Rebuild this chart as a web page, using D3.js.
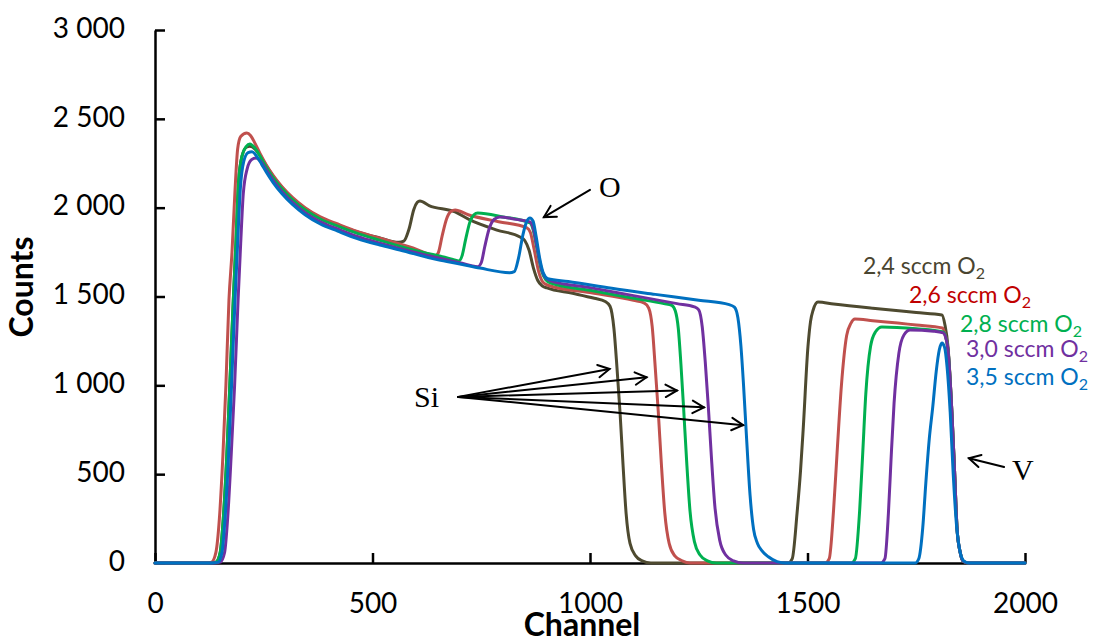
<!DOCTYPE html>
<html>
<head>
<meta charset="utf-8">
<script src="https://cdn.jsdelivr.net/npm/d3@7"></script>
<style>
  html, body { margin: 0; padding: 0; background: #fff; }
  svg { display: block; }
  .tick text { font-family: Lato, "Open Sans", sans-serif; font-size: 28px; fill: #000; }
</style>
</head>
<body>
<svg id="chart" width="1093" height="642"></svg>
<script>
// ---------- DATA ----------
const xTicks = [0, 500, 1000, 1500, 2000];
const yTicks = [0, 500, 1000, 1500, 2000, 2500, 3000];
const seriesNames = ["2,4 sccm O", "2,6 sccm O", "2,8 sccm O", "3,0 sccm O", "3,5 sccm O"];

// [channel, counts]
const s24 = [[0,0],[125,0],[140,5],[150,60],[157,250],[165,600],[172,1000],[180,1480],[186,1800],[192,2140],[200,2290],[210,2340],[218,2345],[230,2330],[242,2292],[256,2235],[272,2175],[292,2113],[316,2053],[345,1995],[380,1943],[420,1903],[465,1864],[517,1830],[560,1805],[572,1812],[584,1880],[595,1990],[603,2030],[609,2038],[630,2012],[690,1976],[724,1931],[786,1874],[839,1835],[850,1815],[860,1760],[870,1660],[880,1590],[890,1560],[901,1548],[960,1518],[1010,1490],[1035,1472],[1046,1445],[1055,1320],[1062,1100],[1069,850],[1076,550],[1083,280],[1092,110],[1105,40],[1120,12],[1140,0],[1455,0],[1465,25],[1476,281],[1484,520],[1490,749],[1501,1216],[1507,1360],[1513,1424],[1524,1469],[1560,1458],[1650,1434],[1750,1410],[1809,1396],[1816,1340],[1823,1216],[1832,844],[1838,520],[1844,186],[1851,60],[1858,10],[1870,0],[2000,0]];

const s26 = [[0,0],[115,0],[130,5],[140,60],[148,250],[156,600],[163,1000],[170,1480],[177,1750],[184,2100],[190,2330],[197,2400],[211,2420],[220,2405],[230,2362],[242,2302],[256,2240],[272,2180],[292,2118],[316,2058],[345,2000],[380,1948],[420,1908],[465,1866],[517,1828],[593,1773],[630,1738],[643,1728],[651,1745],[660,1840],[670,1935],[680,1978],[690,1987],[720,1960],[790,1921],[855,1886],[863,1860],[872,1760],[882,1640],[892,1580],[905,1562],[1000,1522],[1100,1478],[1125,1463],[1135,1435],[1143,1330],[1150,1100],[1157,850],[1164,560],[1172,280],[1182,110],[1195,40],[1212,12],[1230,0],[1540,0],[1550,25],[1560,300],[1568,620],[1578,1000],[1590,1280],[1600,1350],[1609,1373],[1650,1364],[1750,1340],[1810,1323],[1816,1290],[1823,1200],[1832,844],[1838,520],[1844,186],[1851,60],[1858,10],[1870,0],[2000,0]];

const s28 = [[0,0],[125,0],[140,5],[150,60],[157,250],[165,600],[172,1000],[180,1480],[186,1800],[192,2140],[200,2290],[210,2345],[218,2359],[230,2335],[242,2288],[256,2228],[272,2168],[292,2106],[316,2046],[345,1988],[380,1936],[420,1896],[465,1855],[517,1816],[600,1758],[680,1712],[698,1700],[706,1730],[714,1820],[724,1920],[733,1960],[742,1970],[800,1948],[862,1914],[870,1870],[878,1770],[888,1650],[898,1595],[910,1575],[1000,1535],[1100,1490],[1170,1460],[1188,1450],[1196,1420],[1203,1320],[1209,1120],[1215,880],[1222,580],[1230,290],[1240,120],[1253,45],[1270,12],[1290,0],[1600,0],[1610,25],[1620,300],[1627,620],[1634,950],[1645,1220],[1656,1300],[1671,1329],[1750,1318],[1812,1300],[1817,1280],[1823,1200],[1832,844],[1838,520],[1844,186],[1851,60],[1858,10],[1870,0],[2000,0]];

const s30 = [[0,0],[135,0],[150,5],[160,60],[167,250],[175,600],[183,1000],[191,1480],[197,1800],[203,2080],[212,2220],[222,2270],[232,2280],[245,2255],[256,2212],[272,2152],[292,2090],[316,2030],[345,1972],[380,1920],[420,1880],[465,1838],[517,1800],[600,1746],[700,1690],[742,1668],[750,1690],[758,1780],[768,1880],[780,1935],[793,1948],[830,1934],[862,1920],[870,1880],[878,1780],[888,1660],[898,1605],[910,1588],[1000,1550],[1100,1505],[1200,1460],[1240,1442],[1250,1425],[1258,1330],[1265,1130],[1272,880],[1279,600],[1287,320],[1298,130],[1312,45],[1330,12],[1352,0],[1668,0],[1678,25],[1686,280],[1692,580],[1699,900],[1710,1180],[1722,1285],[1736,1312],[1790,1305],[1812,1295],[1817,1275],[1823,1200],[1832,844],[1838,520],[1844,186],[1851,60],[1858,10],[1870,0],[2000,0]];

const s35 = [[0,0],[130,0],[145,5],[154,60],[161,250],[169,600],[176,1000],[184,1480],[190,1800],[196,2100],[204,2260],[214,2310],[223,2315],[235,2285],[245,2245],[256,2200],[272,2140],[292,2078],[316,2018],[345,1960],[380,1908],[420,1868],[465,1826],[517,1790],[563,1762],[651,1706],[701,1683],[747,1660],[815,1634],[826,1640],[836,1720],[846,1850],[855,1925],[862,1942],[869,1925],[876,1840],[884,1720],[893,1630],[903,1600],[950,1585],[1050,1546],[1150,1512],[1250,1479],[1320,1454],[1332,1440],[1340,1380],[1347,1220],[1353,1000],[1360,700],[1368,380],[1376,190],[1385,110],[1395,70],[1410,35],[1430,8],[1450,0],[1748,0],[1756,25],[1765,200],[1772,450],[1780,700],[1788,880],[1796,1080],[1803,1200],[1809,1238],[1815,1215],[1821,1100],[1828,850],[1835,500],[1843,200],[1851,60],[1860,10],[1872,0],[2000,0]];

const allSeries = [s24, s26, s28, s30, s35];
const lineColors = ["#4e4a30", "#c0504d", "#00b050", "#7030a0", "#0070c0"];
const labelColors = ["#4a4530", "#c00000", "#00b050", "#7030a0", "#0070c0"];

// annotations: arrows [fromChannel, fromCounts, toChannel, toCounts]
const siArrows = [[697, 935, 1045, 1092], [697, 935, 1130, 1045], [697, 935, 1200, 971], [697, 935, 1262, 876], [697, 935, 1352, 776]];
const oArrow = [1000, 2100, 894, 1947];
const vArrow = [1952, 540, 1871, 590];

// ---------- CHART ----------
const svg = d3.select("#chart");
const x = d3.scaleLinear().domain([0, 2000]).range([155, 1025]);
const y = d3.scaleLinear().domain([0, 3000]).range([563, 30]);

const loc = d3.formatLocale({decimal: ",", thousands: " ", grouping: [3], currency: ["", ""]});
const yFmt = loc.format(",");

// y axis
const gy = svg.append("g").attr("transform", "translate(155,0)")
  .call(d3.axisLeft(y).tickValues(yTicks).tickFormat(yFmt).tickSizeInner(-10).tickSizeOuter(0));
gy.select(".domain").attr("stroke", "#000").attr("stroke-width", 2.5);
gy.selectAll(".tick line").attr("stroke", "#000").attr("stroke-width", 2.5);
gy.selectAll(".tick text").attr("x", -30).attr("dy", "0.26em");

// x axis
const gx = svg.append("g").attr("transform", "translate(0,563)")
  .call(d3.axisBottom(x).tickValues(xTicks).tickFormat(d3.format("d")).tickSizeInner(-10).tickSizeOuter(0));
gx.select(".domain").attr("stroke", "#000").attr("stroke-width", 2.5);
gx.selectAll(".tick line").attr("stroke", "#000").attr("stroke-width", 2.5);
gx.selectAll(".tick text").attr("y", 50).attr("dy", "0");

// axis titles
svg.append("text").attr("x", 582).attr("y", 636).attr("text-anchor", "middle")
  .style("font-family", "Lato, sans-serif").style("font-weight", "bold").style("font-size", "32px")
  .text("Channel");
svg.append("text").attr("transform", "translate(33,287) rotate(-90)").attr("text-anchor", "middle")
  .style("font-family", "Lato, sans-serif").style("font-weight", "bold").style("font-size", "32px")
  .text("Counts");

// lines
const line = d3.line().x(d => x(d[0])).y(d => y(d[1])).curve(d3.curveMonotoneX);
allSeries.forEach((s, i) => {
  svg.append("path").datum(s).attr("d", line)
    .attr("fill", "none").attr("stroke", lineColors[i]).attr("stroke-width", 3)
    .attr("stroke-linejoin", "round").attr("stroke-linecap", "round");
});

// legend labels
const legendPos = [[863, 274], [909, 303], [960, 332], [966, 357], [966, 385]];
seriesNames.forEach((n, i) => {
  const t = svg.append("text").attr("x", legendPos[i][0]).attr("y", legendPos[i][1])
    .style("font-family", "Lato, sans-serif").style("font-size", "23px").attr("fill", labelColors[i]);
  t.append("tspan").text(n);
  t.append("tspan").attr("dy", 5).style("font-size", "16px").text("2");
});

// arrows
function arrow(x1, y1, x2, y2) {
  const g = svg.append("g").attr("stroke", "#000").attr("stroke-width", 2).attr("fill", "none")
    .attr("stroke-linecap", "round");
  g.append("line").attr("x1", x1).attr("y1", y1).attr("x2", x2).attr("y2", y2);
  const a = Math.atan2(y2 - y1, x2 - x1);
  const L = 13, w = 0.5;
  const p1 = [x2 - L * Math.cos(a - w), y2 - L * Math.sin(a - w)];
  const p2 = [x2 - L * Math.cos(a + w), y2 - L * Math.sin(a + w)];
  g.append("path").attr("d", `M${p1[0]},${p1[1]}L${x2},${y2}L${p2[0]},${p2[1]}`)
    .attr("stroke-linejoin", "miter");
}
siArrows.forEach(a => arrow(x(a[0]), y(a[1]), x(a[2]), y(a[3])));
arrow(x(oArrow[0]), y(oArrow[1]), x(oArrow[2]), y(oArrow[3]));
arrow(x(vArrow[0]), y(vArrow[1]), x(vArrow[2]), y(vArrow[3]));

const serif = "'Liberation Serif', 'Times New Roman', serif";
svg.append("text").attr("x", 414).attr("y", 407).style("font-family", serif).style("font-size", "30px").text("Si");
svg.append("text").attr("x", 599).attr("y", 197).style("font-family", serif).style("font-size", "30px").text("O");
svg.append("text").attr("x", 1012).attr("y", 480).style("font-family", serif).style("font-size", "30px").text("V");
</script>
</body>
</html>
